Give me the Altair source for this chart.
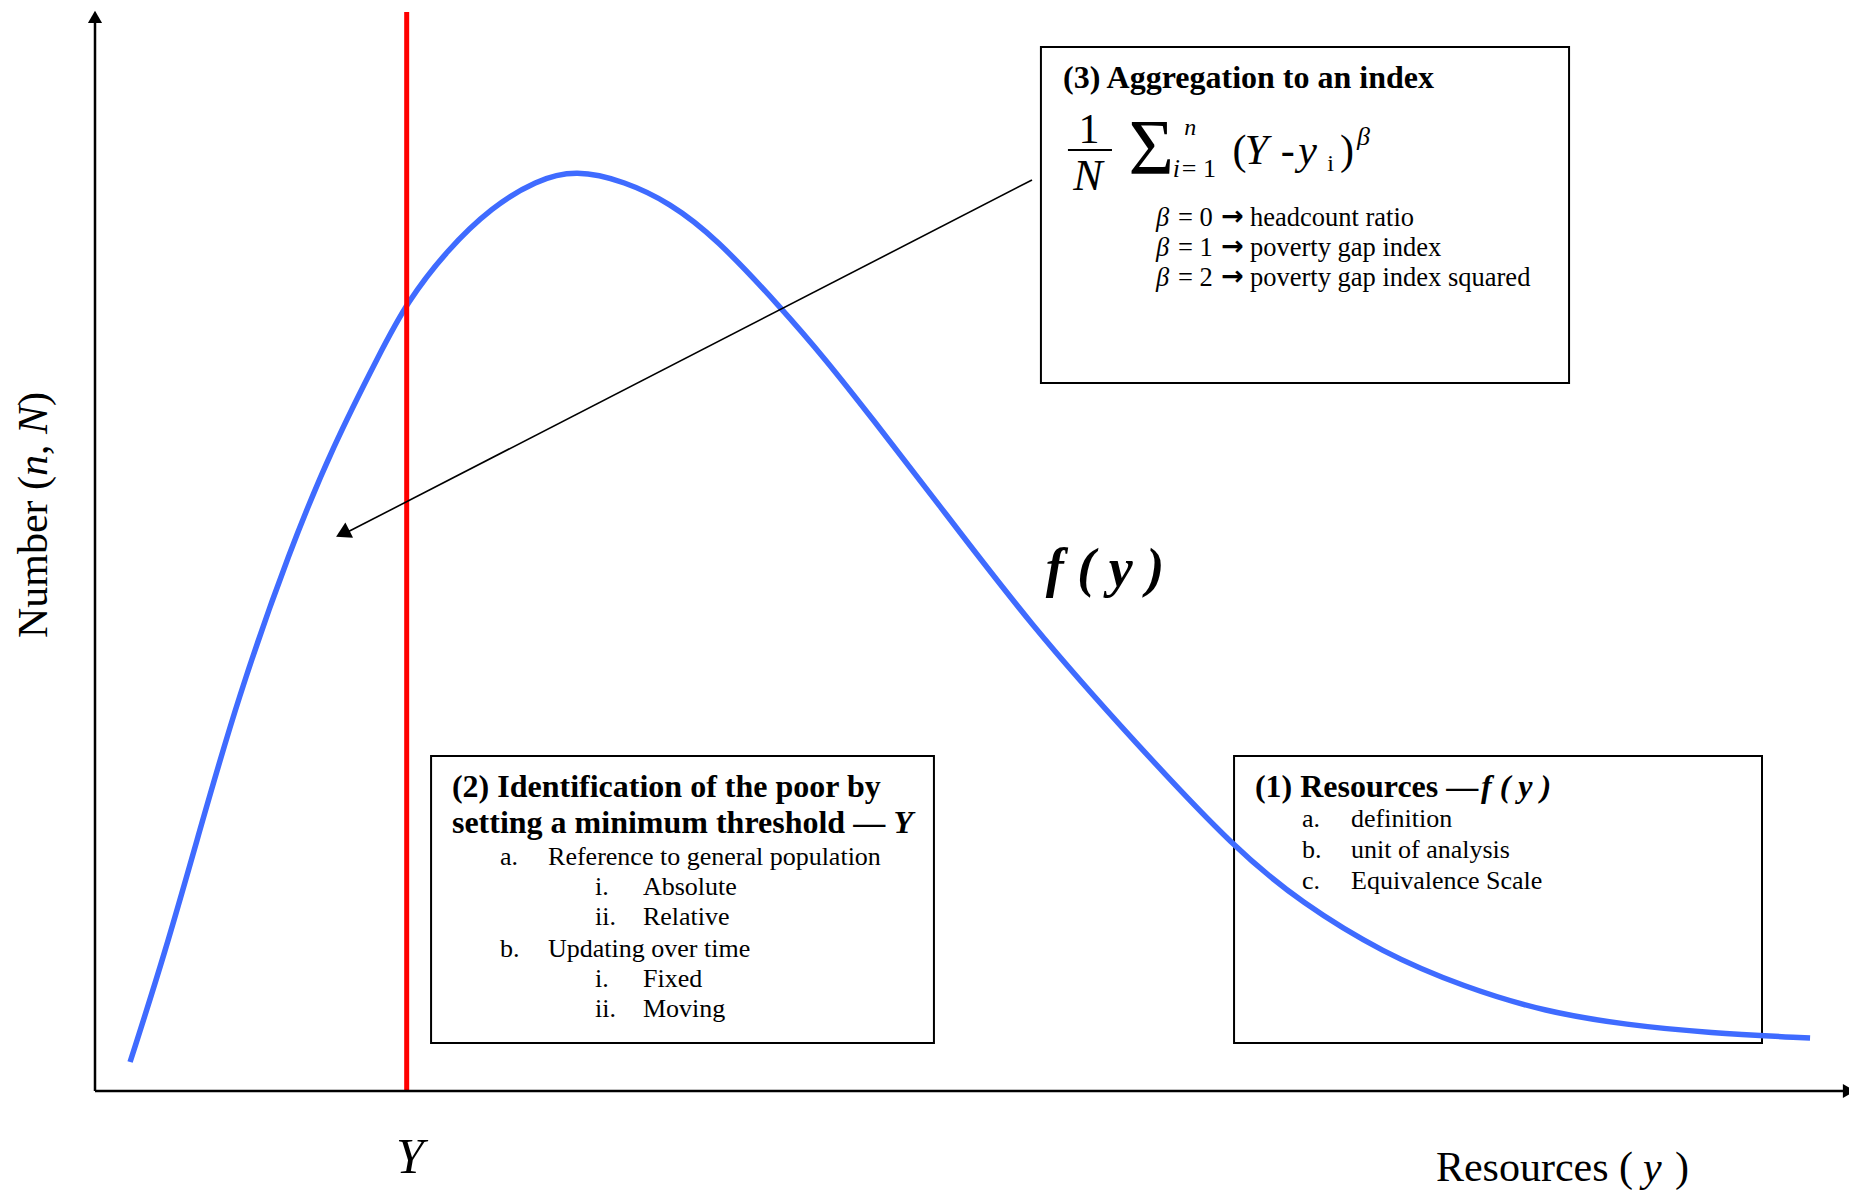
import altair as alt
import pandas as pd

FONT = "Liberation Serif"

# ---- data (axis units: resources 0-100 on x, number 0-100 on y) ----
curve_x = [2.00, 3.99, 5.93, 8.10, 11.12, 13.57, 16.25, 17.79, 20.07, 22.63,
           25.14, 27.42, 30.22, 32.78, 35.35, 39.17, 41.68, 44.24, 47.78, 53.42,
           59.41, 65.05, 68.81, 73.43, 78.05, 82.72, 87.34, 91.96, 97.78]
curve_y = [2.69, 12.79, 23.91, 36.24, 50.23, 59.78, 68.40, 73.12, 77.94, 81.93,
           84.40, 85.40, 84.30, 82.30, 79.15, 72.50, 67.75, 62.47, 55.05, 43.00,
           32.10, 22.34, 17.42, 12.79, 9.64, 7.32, 6.12, 5.38, 4.91]
poverty_line = [17.77]

box_x = [53.93, 19.16, 64.94]
box_x2 = [84.04, 47.83, 95.04]
box_y = [96.76, 31.05, 31.05]
box_y2 = [65.62, 4.45, 4.45]

pointer = {"x": [53.42], "y": [84.43], "x2": [14.40], "y2": [51.80]}
pointer_tip = {"x": [14.12], "y": [51.67]}

# text pieces: (text, x, y, font size)
regular_left = [
    ("(", 64.85, 85.91, 42), ("-", 67.60, 85.91, 42), ("i", 70.25, 85.26, 24),
    (")", 70.98, 85.91, 42), ("= 1", 61.96, 84.71, 26),
    ("= 0", 61.74, 80.16, 26.5), ("headcount ratio", 65.85, 80.16, 26.5),
    ("= 1", 61.74, 77.39, 26.5), ("poverty gap index", 65.85, 77.39, 26.5),
    ("= 2", 61.74, 74.61, 26.5), ("poverty gap index squared", 65.85, 74.61, 26.5),
    ("a.", 23.09, 20.95, 26), ("Reference to general population", 25.83, 20.95, 26),
    ("i.", 28.51, 18.16, 26), ("Absolute", 31.24, 18.16, 26),
    ("ii.", 28.51, 15.38, 26), ("Relative", 31.24, 15.38, 26),
    ("b.", 23.09, 12.42, 26), ("Updating over time", 25.83, 12.42, 26),
    ("i.", 28.51, 9.64, 26), ("Fixed", 31.24, 9.64, 26),
    ("ii.", 28.51, 6.86, 26), ("Moving", 31.24, 6.86, 26),
    ("a.", 68.81, 24.47, 26), ("definition", 71.61, 24.47, 26),
    ("b.", 68.81, 21.59, 26), ("unit of analysis", 71.61, 21.59, 26),
    ("c.", 68.81, 18.72, 26), ("Equivalence Scale", 71.61, 18.72, 26),
    ("Resources (", 76.45, -8.34, 42), (")", 90.08, -8.34, 42),
]
regular_center = [("1", 56.67, 87.86, 42), ("\u03a3", 60.22, 85.10, 78)]
arrow_glyphs = [("\u2192", 64.85, 80.26, 27), ("\u2192", 64.85, 77.49, 27), ("\u2192", 64.85, 74.71, 27)]
italic_left = [
    ("n", 62.10, 88.60, 24), ("i", 61.45, 84.71, 26),
    ("Y", 65.55, 85.91, 42), ("y", 68.60, 85.91, 42), ("\u03b2", 71.95, 87.67, 26),
    ("\u03b2", 60.49, 80.16, 26.5), ("\u03b2", 60.49, 77.39, 26.5), ("\u03b2", 60.49, 74.61, 26.5),
    ("y", 88.26, -8.34, 42),
]
italic_center = [("N", 56.61, 83.50, 44), ("Y", 17.96, -7.60, 50)]
bold_left = [
    ("(3) Aggregation to an index", 55.19, 92.96, 32),
    ("(2) Identification of the poor by", 20.35, 27.25, 32),
    ("setting a minimum threshold \u2014", 20.35, 23.91, 32),
    ("(1) Resources \u2014", 66.13, 27.25, 32),
]
bolditalic_left = [("f ( y )", 79.02, 27.25, 32)]
bolditalic_right = [("Y", 46.64, 23.91, 32)]
bolditalic_center = [("f ( y )", 57.58, 46.80, 54)]
rot_regular = [("Number (", -2.74, 41.98, 42), (",", -2.74, 58.94, 42), (")", -2.74, 63.48, 42)]
rot_italic = [("n", -2.74, 57.00, 42), ("N", -2.74, 60.89, 42)]

# ---- chart ----
xs = alt.Scale(domain=[0, 100], nice=False, zero=False)
ys = alt.Scale(domain=[0, 100], nice=False, zero=False)


def X(f):
    return alt.X(f, type="quantitative", scale=xs, axis=None)


def Y(f):
    return alt.Y(f, type="quantitative", scale=ys, axis=None)


def text_layer(rows, font=FONT, **mk):
    df = pd.DataFrame(rows, columns=["t", "x", "y", "fs"])
    return alt.Chart(df).mark_text(font=font, baseline="alphabetic", color="black", **mk).encode(
        x=X("x"), y=Y("y"), text="t:N",
        size=alt.Size("fs:Q", scale=None, legend=None),
    )


boxes = alt.Chart(pd.DataFrame({"x": box_x, "x2": box_x2, "y": box_y, "y2": box_y2})).mark_rect(
    fillOpacity=0, stroke="black", strokeWidth=2
).encode(x=X("x"), x2="x2", y=Y("y"), y2="y2")

curve = alt.Chart(pd.DataFrame({"x": curve_x, "y": curve_y})).mark_line(
    color="#3F6BFF", strokeWidth=5.5, interpolate="basis"
).encode(x=X("x"), y=Y("y"))

red = alt.Chart(pd.DataFrame({"x": poverty_line, "y": [0], "y2": [100]})).mark_rule(
    color="#FF0000", strokeWidth=5
).encode(x=X("x"), y=Y("y"), y2="y2")

axes = alt.Chart(pd.DataFrame({"x": [0, 0], "y": [0, 0], "x2": [0, 100], "y2": [99.4, 0]})).mark_rule(
    color="black", strokeWidth=2.5
).encode(x=X("x"), y=Y("y"), x2="x2", y2="y2")

yarrow = alt.Chart(pd.DataFrame({"x": [0], "y": [99.54]})).mark_point(
    shape="triangle-up", filled=True, color="black", size=200, opacity=1
).encode(x=X("x"), y=Y("y"))

xarrow = alt.Chart(pd.DataFrame({"x": [100], "y": [0]})).mark_point(
    shape="triangle-right", filled=True, color="black", size=200, opacity=1
).encode(x=X("x"), y=Y("y"))

ptr_line = alt.Chart(pd.DataFrame(pointer)).mark_rule(color="black", strokeWidth=1.6).encode(
    x=X("x"), y=Y("y"), x2="x2", y2="y2"
)
ptr_head = alt.Chart(pd.DataFrame(pointer_tip)).mark_point(
    shape="triangle-up", filled=True, color="black", size=290, angle=243, opacity=1
).encode(x=X("x"), y=Y("y"))

frac_bar = alt.Chart(pd.DataFrame({"x": [55.47], "x2": [57.98], "y": [87.21]})).mark_rule(
    color="black", strokeWidth=2
).encode(x=X("x"), x2="x2", y=Y("y"))

layers = [
    boxes, curve, red, axes, yarrow, xarrow, ptr_line, ptr_head, frac_bar,
    text_layer(regular_left, align="left"),
    text_layer(regular_center, align="center"),
    text_layer(arrow_glyphs, font="DejaVu Sans", align="center", fontWeight="bold"),
    text_layer(italic_left, align="left", fontStyle="italic"),
    text_layer(italic_center, align="center", fontStyle="italic"),
    text_layer(bold_left, align="left", fontWeight="bold"),
    text_layer(bolditalic_left, align="left", fontWeight="bold", fontStyle="italic"),
    text_layer(bolditalic_right, align="right", fontWeight="bold", fontStyle="italic"),
    text_layer(bolditalic_center, align="center", fontWeight="bold", fontStyle="italic"),
    text_layer(rot_regular, align="left", angle=270),
    text_layer(rot_italic, align="left", angle=270, fontStyle="italic"),
]

chart = alt.layer(*layers).properties(
    width=1754, height=1079,
    padding={"left": 87, "top": 4, "right": 0, "bottom": 99},
    autosize=alt.AutoSizeParams(type="none"),
    background="white",
).configure_view(stroke=None)

chart.save("out.html", embed_options={"renderer": "svg", "actions": False})
